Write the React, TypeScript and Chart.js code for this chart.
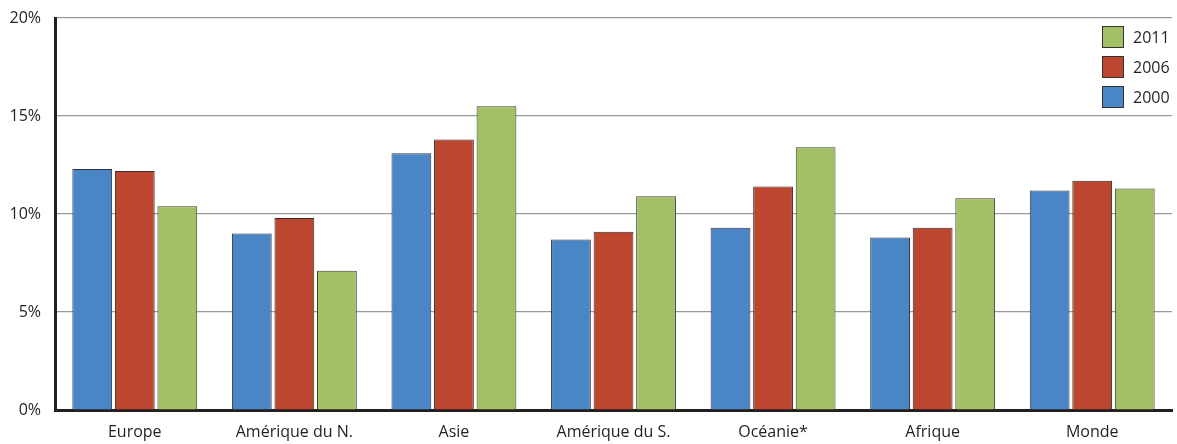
import React, { useEffect, useRef } from "react";
import { Chart, registerables } from "chart.js";

Chart.register(...registerables);

const categories = ["Europe", "Amérique du N.", "Asie", "Amérique du S.", "Océanie*", "Afrique", "Monde"];
const values2000 = [12.3, 9.0, 13.1, 8.7, 9.3, 8.8, 11.2];
const values2006 = [12.2, 9.8, 13.8, 9.1, 11.4, 9.3, 11.7];
const values2011 = [10.4, 7.1, 15.5, 10.9, 13.4, 10.8, 11.3];
const yTicks = [0, 5, 10, 15, 20];

const FONT = "'Open Sans', 'Noto Sans', sans-serif";
const TEXT = "#231f20";

const insideLegend = {
  id: "insideLegend",
  afterDraw(chart: any) {
    const ctx = chart.ctx;
    const items = [...chart.data.datasets].reverse();
    ctx.save();
    items.forEach((ds: any, i: number) => {
      const x = 1102;
      const y = 26 + i * 30;
      ctx.fillStyle = ds.backgroundColor;
      ctx.fillRect(x, y, 22, 22);
      ctx.strokeStyle = "#333333";
      ctx.lineWidth = 1;
      ctx.strokeRect(x + 0.5, y + 0.5, 21, 21);
      ctx.fillStyle = TEXT;
      ctx.font = `16px ${FONT}`;
      ctx.textBaseline = "middle";
      ctx.textAlign = "left";
      ctx.fillText(ds.label, x + 31, y + 12);
    });
    ctx.restore();
  },
};

export default function App() {
  const ref = useRef<HTMLCanvasElement>(null);
  useEffect(() => {
    if (!ref.current) return;
    const chart = new Chart(ref.current, {
      type: "bar",
      data: {
        labels: categories,
        datasets: [
          { label: "2000", data: values2000, backgroundColor: "#4a86c5", borderColor: "#2f3440", borderWidth: 1 },
          { label: "2006", data: values2006, backgroundColor: "#bd4631", borderColor: "#3a2a26", borderWidth: 1 },
          { label: "2011", data: values2011, backgroundColor: "#a3c066", borderColor: "#3a3f2e", borderWidth: 1 },
        ],
      },
      options: {
        responsive: false,
        animation: false,
        layout: { padding: { top: 18, right: 5, left: 0, bottom: 0 } },
        plugins: { legend: { display: false }, tooltip: { enabled: false } },
        datasets: { bar: { categoryPercentage: 0.8, barPercentage: 0.935 } },
        scales: {
          x: {
            grid: { display: false },
            border: { display: true, color: TEXT, width: 3 },
            ticks: { color: TEXT, font: { family: FONT, size: 16 }, padding: 5, maxRotation: 0 },
            afterFit(scale: any) { scale.height = 34; scale.paddingLeft = 0; scale.paddingRight = 0; },
          },
          y: {
            min: 0,
            max: 20,
            afterBuildTicks(scale: any) { scale.ticks = yTicks.map((v) => ({ value: v })); },
            grid: { color: "#9a9a9a", lineWidth: 1.2, drawTicks: false },
            border: { display: true, color: TEXT, width: 3 },
            ticks: {
              color: TEXT,
              font: { family: FONT, size: 16 },
              padding: 14,
              callback: (v: any) => `${v}%`,
            },
            afterFit(scale: any) { scale.width = 55; scale.paddingTop = 0; scale.paddingBottom = 0; },
          },
        },
      },
      plugins: [insideLegend],
    });
    return () => chart.destroy();
  }, []);
  return (
    <div style={{ position: "absolute", left: 0, top: 0, width: 1177, height: 444, background: "#fff" }}>
      <canvas ref={ref} width={1177} height={444} />
    </div>
  );
}
